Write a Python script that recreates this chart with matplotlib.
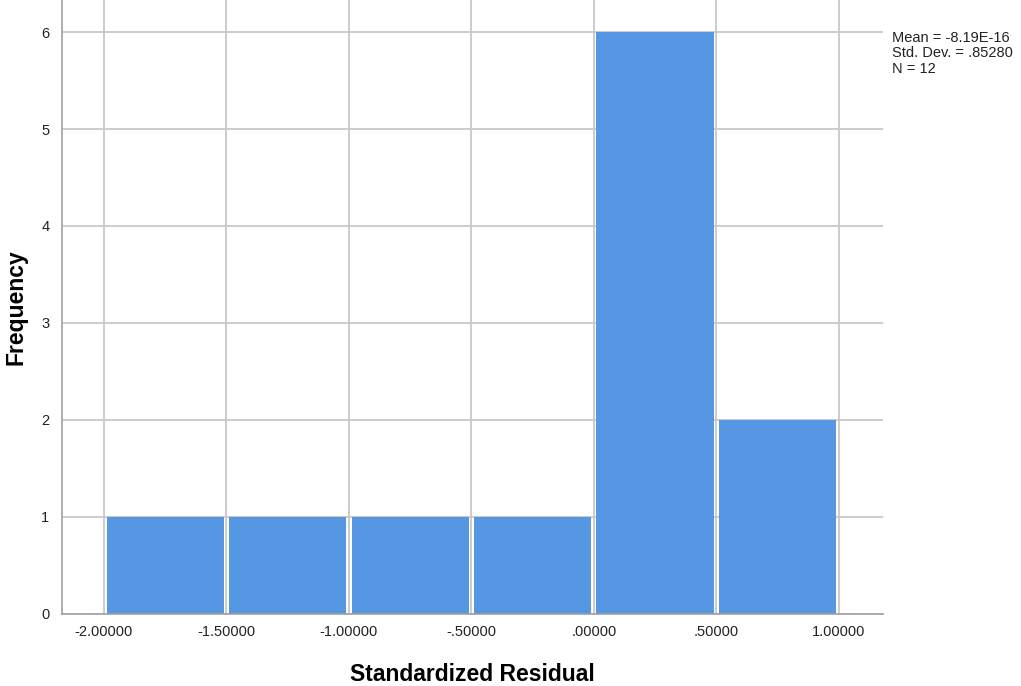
import matplotlib.pyplot as plt
import numpy as np

plt.rcParams['font.family'] = ['Liberation Sans', 'DejaVu Sans']

# histogram of standardized residuals
bin_edges = np.array([-2.0, -1.5, -1.0, -0.5, 0.0, 0.5, 1.0])
counts = np.array([1, 1, 1, 1, 6, 2])
tick_labels = ['-2.00000', '-1.50000', '-1.00000', '-.50000', '.00000', '.50000', '1.00000']
stats_text = 'Mean = -8.19E-16\nStd. Dev. = .85280\nN = 12'

fig = plt.figure(figsize=(10.21, 6.86), dpi=100)
ax = fig.add_axes([0.0607, 0.105, 0.804, 0.895])

grid_col = '#c8c8c8'
gap = 0.022  # small white gap between neighbouring bars
widths = np.diff(bin_edges)
ax.bar(bin_edges[:-1] + gap / 2, counts, width=widths - gap, align='edge',
       color='#5597e3', linewidth=0, zorder=2)

ax.set_xlim(-2.171, 1.18)
ax.set_ylim(0, 6.33)
ax.set_xticks(bin_edges)
ax.set_xticklabels(tick_labels)
ax.set_yticks(range(0, 7))

ax.grid(True, color=grid_col, linewidth=1.3, zorder=0)
ax.set_axisbelow(True)
for side in ['top', 'right']:
    ax.spines[side].set_visible(False)
for side in ['left', 'bottom']:
    ax.spines[side].set_color('#a0a0a0')
    ax.spines[side].set_linewidth(1.2)
ax.tick_params(length=0, labelsize=10.5, colors='#222222', pad=8)
ax.tick_params(axis='y', pad=9)

ax.set_xlabel('Standardized Residual', fontsize=16.5, fontweight='bold', labelpad=17)
ax.set_ylabel('Frequency', fontsize=16.5, fontweight='bold')
ax.yaxis.set_label_coords(-0.042, 0.5)

fig.text(0.874, 0.955, stats_text, fontsize=10.5, va='top', ha='left',
         linespacing=1.12, color='#222222')

fig.savefig('out.png', dpi=100)
